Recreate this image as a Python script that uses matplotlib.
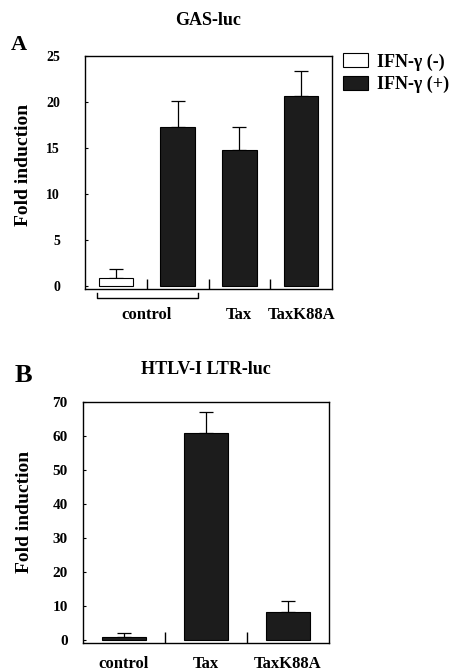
import matplotlib
matplotlib.use("Agg")
import matplotlib.pyplot as plt
from matplotlib.transforms import blended_transform_factory

plt.rcParams["font.family"] = ["Liberation Serif", "DejaVu Serif"]
plt.rcParams["font.weight"] = "bold"

# --- Panel A: GAS-luc -------------------------------------------------------
gas_pos = [0, 1, 2, 3]
gas_vals = [0.9, 17.3, 14.8, 20.7]
gas_err = [0.9, 2.8, 2.5, 2.7]
gas_ifn = [False, True, True, True]          # IFN-gamma added?
gas_groups = ["control", "Tax", "TaxK88A"]
gas_group_x = [0.5, 2, 3]
gas_yticks = [0, 5, 10, 15, 20, 25]

# --- Panel B: HTLV-I LTR-luc ------------------------------------------------
ltr_pos = [0, 1, 2]
ltr_vals = [1.0, 61.0, 8.2]
ltr_err = [1.0, 6.0, 3.3]
ltr_labels = ["control", "Tax", "TaxK88A"]
ltr_yticks = [0, 10, 20, 30, 40, 50, 60, 70]

W, H = 452, 671
fig = plt.figure(figsize=(W / 100, H / 100), dpi=100)


def px_axes(l, t, r, b):
    return fig.add_axes([l / W, 1 - b / H, (r - l) / W, (b - t) / H])


def style(ax, yticks, size, pad):
    ax.set_yticks(yticks)
    ax.tick_params(axis="y", direction="in", length=2, width=0.8, labelsize=size, pad=pad)
    for lab in ax.get_yticklabels():
        lab.set_fontweight("bold")
    for s in ax.spines.values():
        s.set_linewidth(1.0)


# Panel A
axA = px_axes(85, 56, 332, 289)
neg = [i for i, f in enumerate(gas_ifn) if not f]
pos = [i for i, f in enumerate(gas_ifn) if f]
for idx, col, lab in [(neg, "white", "IFN-\u03b3 (-)"), (pos, "#1c1c1c", "IFN-\u03b3 (+)")]:
    axA.bar([gas_pos[i] for i in idx], [gas_vals[i] for i in idx], width=0.56,
            color=col, edgecolor="black", linewidth=0.8, label=lab, zorder=2)
    axA.errorbar([gas_pos[i] for i in idx], [gas_vals[i] for i in idx],
                 yerr=[[0] * len(idx), [gas_err[i] for i in idx]],
                 fmt="none", ecolor="black", elinewidth=0.9, capsize=5, capthick=0.9, zorder=1)
axA.set_xlim(-0.5, 3.5)
axA.set_ylim(-0.33, 25)
style(axA, gas_yticks, 10, 18)
axA.set_xticks([0.5, 1.5, 2.5])
axA.set_xticklabels([])
axA.tick_params(axis="x", direction="in", length=7, width=1.0)
axA.set_ylabel("Fold induction", fontsize=14, fontweight="bold")
axA.yaxis.set_label_coords(-0.215, 0.532)
axA.set_title("GAS-luc", fontsize=13, fontweight="bold", pad=22)

# bracket under the two control bars
axA.plot([-0.31, -0.31, 1.33, 1.33], [-0.75, -1.3, -1.3, -0.75], color="black",
         lw=1.0, clip_on=False)
trA = blended_transform_factory(axA.transData, axA.transAxes)
for x, t in zip(gas_group_x, gas_groups):
    axA.text(x, -0.112, t, transform=trA, ha="center", va="center",
             fontsize=12, fontweight="bold")

fig.legend(loc="upper left", bbox_to_anchor=(343 / W, 1 - 53 / H), frameon=False,
           handlelength=1.4, handleheight=0.85, handletextpad=0.5,
           labelspacing=0.3, borderpad=0, borderaxespad=0,
           prop={"weight": "bold", "size": 13})
fig.text(19 / W, 1 - 45 / H, "A", fontsize=16, fontweight="bold", ha="center", va="center")

# Panel B
axB = px_axes(83, 402, 329, 643)
axB.bar(ltr_pos, ltr_vals, width=0.54, color="#1c1c1c", edgecolor="black",
        linewidth=0.8, zorder=2)
axB.errorbar(ltr_pos, ltr_vals, yerr=[[0] * len(ltr_err), ltr_err], fmt="none",
             ecolor="black", elinewidth=0.9, capsize=5, capthick=0.9, zorder=1)
axB.set_xlim(-0.5, 2.5)
axB.set_ylim(-0.9, 70)
style(axB, ltr_yticks, 11, 11)
axB.set_xticks([0.5, 1.5])
axB.set_xticklabels([])
axB.tick_params(axis="x", direction="in", length=8, width=1.0)
axB.set_ylabel("Fold induction", fontsize=14, fontweight="bold")
axB.yaxis.set_label_coords(-0.203, 0.544)
axB.set_title("HTLV-I LTR-luc", fontsize=13, fontweight="bold", pad=20)
trB = blended_transform_factory(axB.transData, axB.transAxes)
for x, t in zip(ltr_pos, ltr_labels):
    axB.text(x, -0.087, t, transform=trB, ha="center", va="center",
             fontsize=12, fontweight="bold")
fig.text(23 / W, 1 - 376 / H, "B", fontsize=19, fontweight="bold", ha="center", va="center")

fig.savefig("out.png", dpi=100)
